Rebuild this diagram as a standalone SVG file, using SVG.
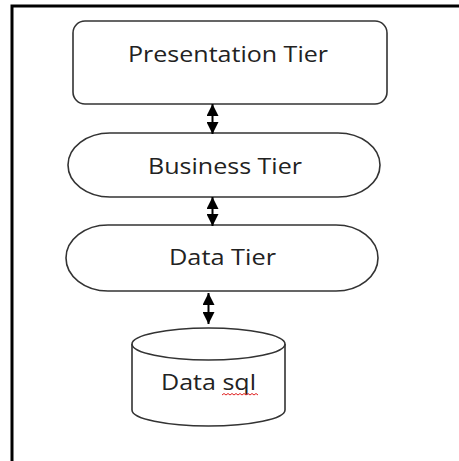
<svg xmlns="http://www.w3.org/2000/svg" width="459" height="461" viewBox="0 0 459 461">
<style>
.shape{fill:#fff;stroke:#333;stroke-width:1.6}
.lbl{font-family:"Open Sans","DejaVu Sans",sans-serif;font-size:22px;fill:#222;text-anchor:middle}
.conn{stroke:#000;stroke-width:2;fill:none}
.frame{stroke:#000;stroke-width:3;fill:none}
</style>
<defs>
<marker id="ah" viewBox="0 0 12 12" refX="12" refY="6" markerWidth="12" markerHeight="12" markerUnits="userSpaceOnUse" orient="auto-start-reverse">
<path d="M0,0 L12,6 L0,12 z" fill="#000"/>
</marker>
</defs>
<rect width="459" height="461" fill="#fff"/>
<path class="frame" d="M12,461 V6 H459"/>
<g id="presentation">
<rect class="shape" x="73" y="21" width="314" height="83" rx="12" ry="12"/>
<text class="lbl" x="228" y="62" textLength="200" lengthAdjust="spacingAndGlyphs">Presentation Tier</text>
</g>
<g id="business">
<rect class="shape" x="68" y="133" width="312" height="64" rx="42" ry="32"/>
<text class="lbl" x="225" y="174" textLength="154" lengthAdjust="spacingAndGlyphs">Business Tier</text>
</g>
<g id="data">
<rect class="shape" x="66" y="225" width="312" height="66" rx="42" ry="33"/>
<text class="lbl" x="222.5" y="265" textLength="107" lengthAdjust="spacingAndGlyphs">Data Tier</text>
</g>
<g id="datasql">
<path class="shape" d="M132,344 V410 A76.5,16 0 0 0 285,410 V344"/>
<ellipse class="shape" cx="208.5" cy="344" rx="76.5" ry="16"/>
<text class="lbl" x="208.5" y="390" style="font-size:21px" textLength="95" lengthAdjust="spacingAndGlyphs">Data sql</text>
<path d="M222,395 l2,-1.5 l2,1.5 l2,-1.5 l2,1.5 l2,-1.5 l2,1.5 l2,-1.5 l2,1.5 l2,-1.5 l2,1.5 l2,-1.5 l2,1.5 l2,-1.5 l2,1.5 l2,-1.5 l2,1.5 l2,-1.5 l2,1.5" fill="none" stroke="#e02020" stroke-width="1"/>
</g>
<g id="connectors">
<line class="conn" x1="212.5" y1="104" x2="212.5" y2="134" marker-start="url(#ah)" marker-end="url(#ah)"/>
<line class="conn" x1="212.5" y1="197" x2="212.5" y2="226" marker-start="url(#ah)" marker-end="url(#ah)"/>
<line class="conn" x1="208.5" y1="293" x2="208.5" y2="324" marker-start="url(#ah)" marker-end="url(#ah)"/>
</g>
</svg>
